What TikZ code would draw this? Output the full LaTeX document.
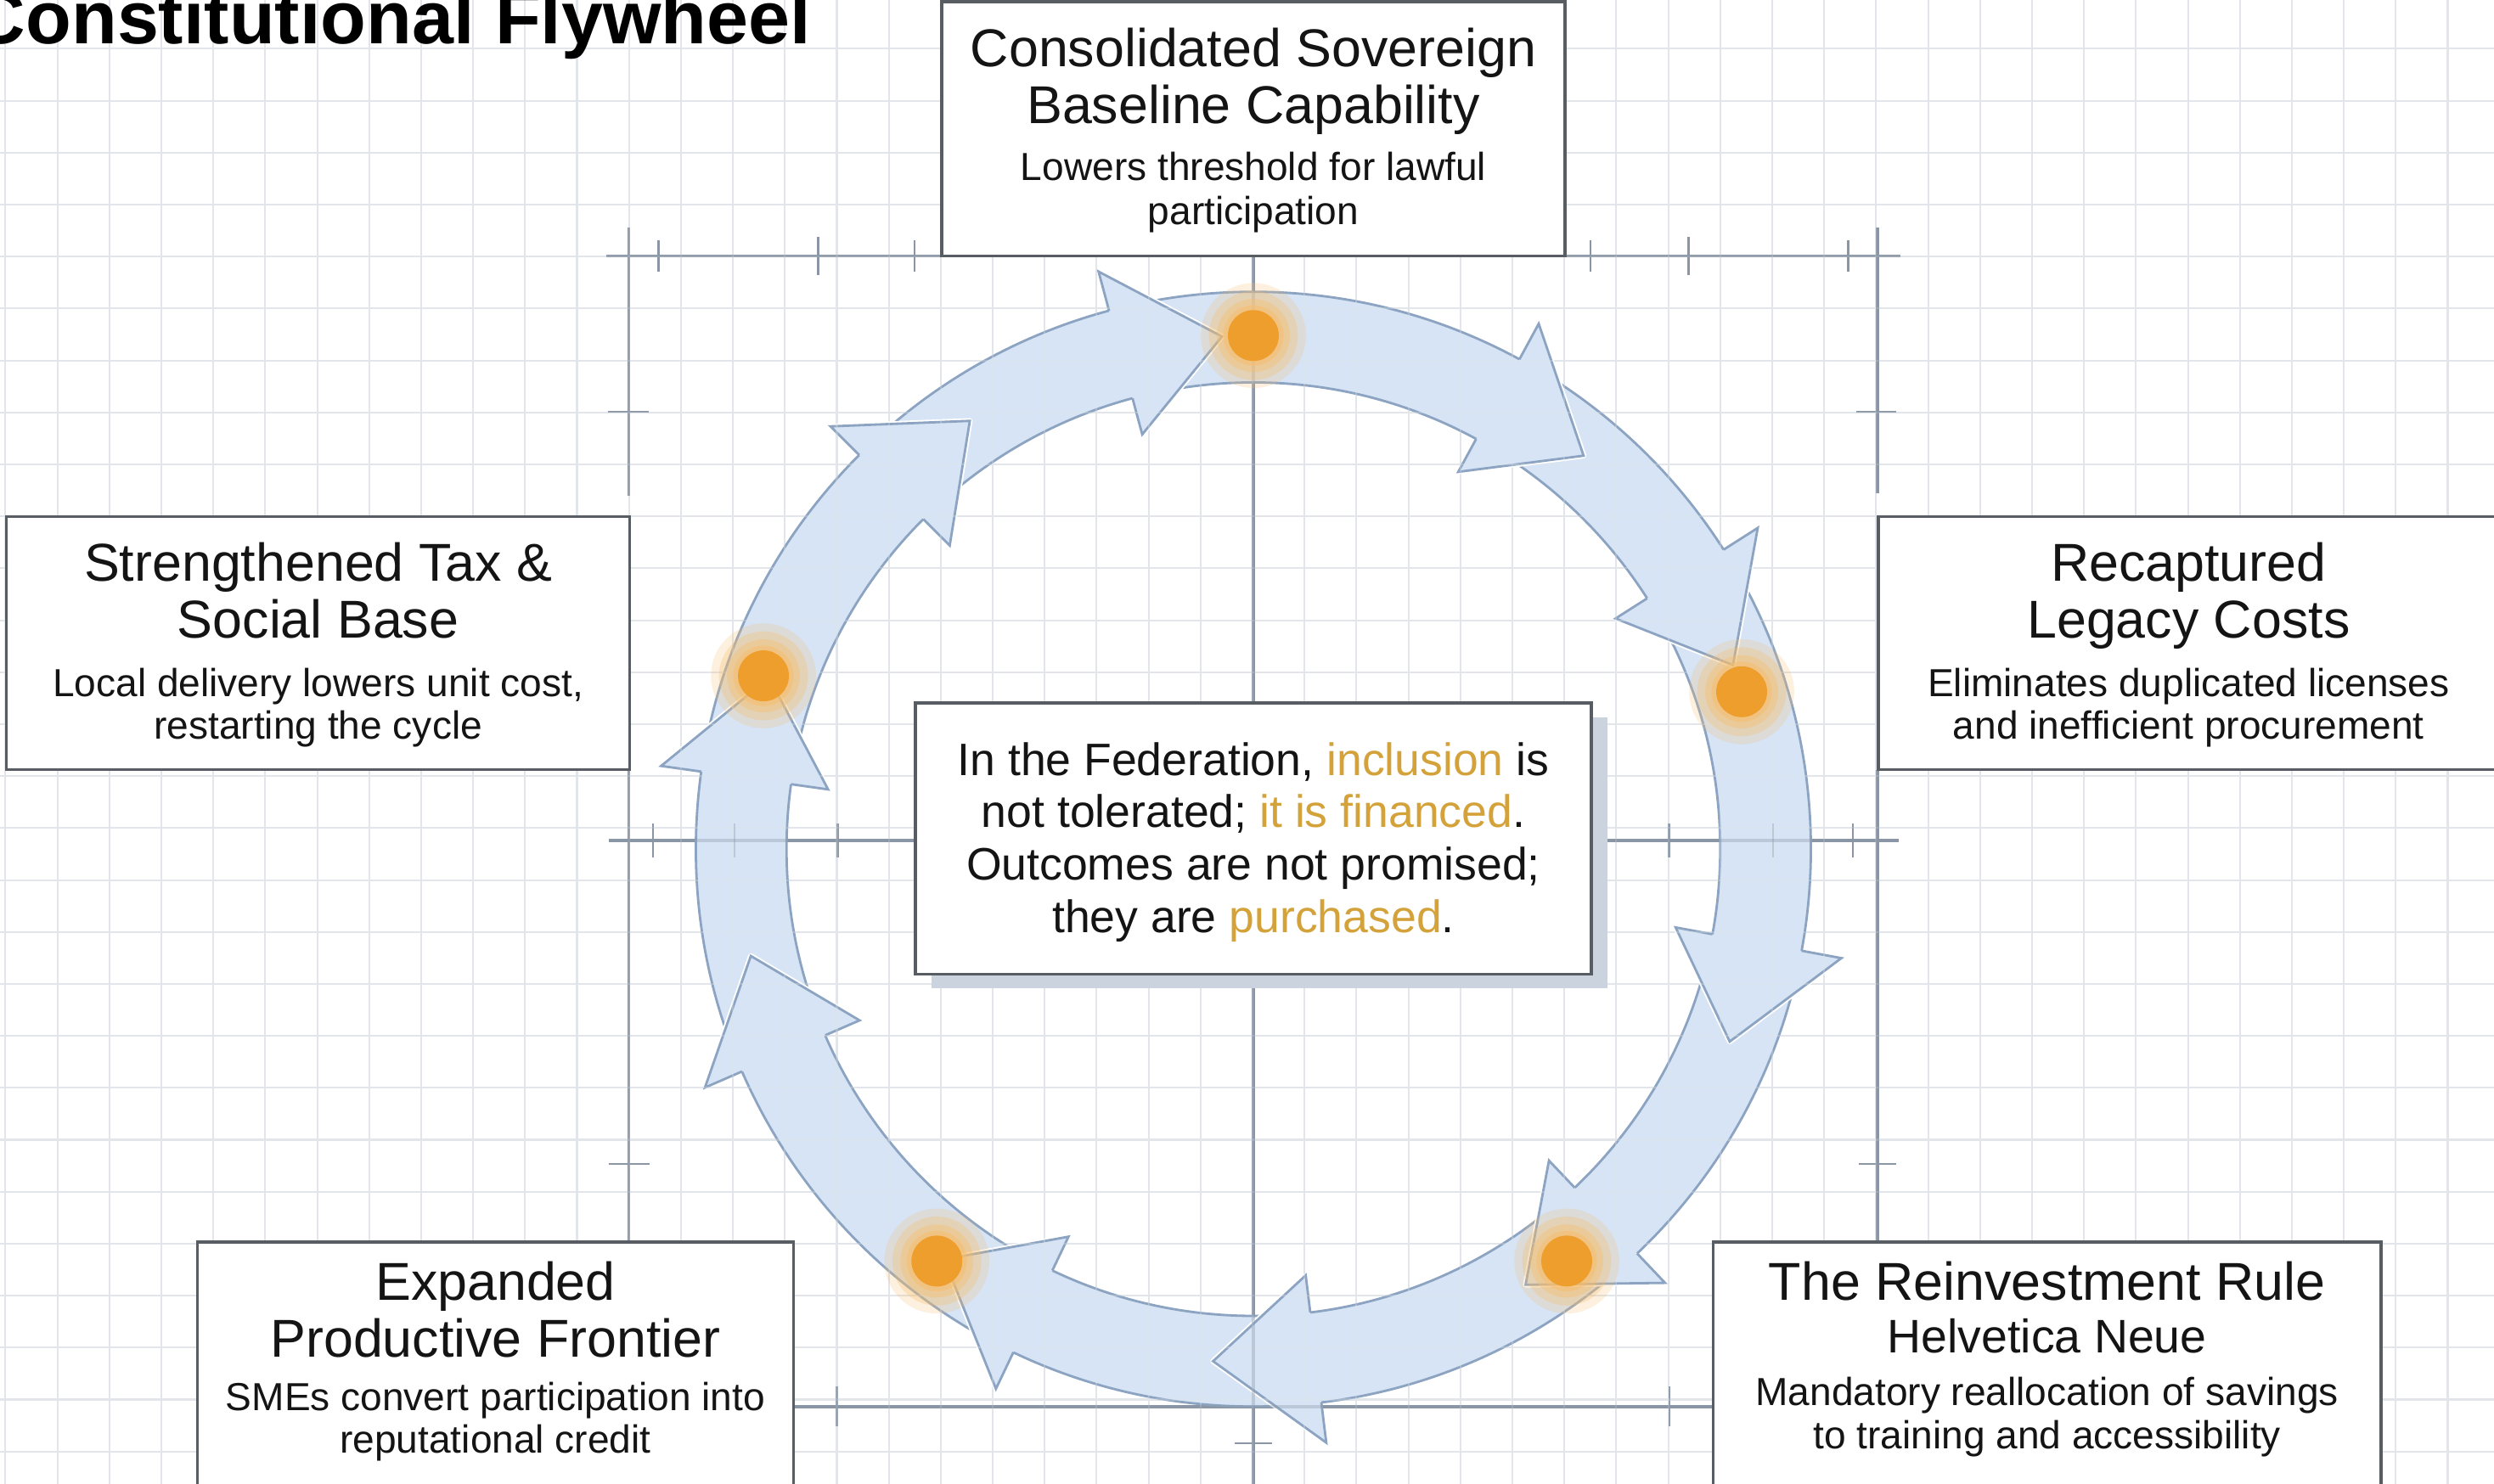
\documentclass[tikz,border=0pt]{standalone}
\usepackage{fontspec}
\setmainfont{Liberation Sans}
\usetikzlibrary{calc}
\definecolor{gridc}{RGB}{226,229,233}
\definecolor{axisc}{RGB}{138,150,166}
\definecolor{ringf}{RGB}{214,228,245}
\definecolor{ringd}{RGB}{140,164,193}
\definecolor{dotc}{RGB}{238,158,44}
\definecolor{glowc}{RGB}{247,190,110}
\definecolor{boxd}{RGB}{88,93,100}
\definecolor{hl}{RGB}{212,162,58}
\definecolor{txt}{RGB}{20,20,20}
\definecolor{shadowc}{RGB}{203,211,222}
\begin{document}
\begin{tikzpicture}[x=1pt,y=-1pt,
  gridline/.style={draw=gridc, line width=1.1pt},
  axisline/.style={draw=axisc, line width=1.7pt},
  tickline/.style={draw=axisc, line width=1.4pt},
  ringedge/.style={draw=ringd, line width=1.5pt},
  boxstyle/.style={draw=boxd, line width=1.8pt, fill=white, inner sep=0pt, outer sep=0pt},
  boxtitle/.style={anchor=base, text=txt, inner sep=0pt, font=\fontsize{33.5}{36}\selectfont},
  boxsub/.style={anchor=base, text=txt, inner sep=0pt, font=\fontsize{24.6}{28}\selectfont},
  quotetext/.style={anchor=base, text=txt, inner sep=0pt, font=\fontsize{28.6}{32}\selectfont},
  glowdot/.style={circle, fill=dotc, minimum size=32pt, inner sep=0pt},
]
\useasboundingbox (0,0) rectangle (1568,933);
\clip (0,0) rectangle (1568,933);
\fill[white] (0,0) rectangle (1568,933);

% background grid
\foreach \i in {0,...,48} \draw[gridline] ({3.4+32.67*\i},0) -- ({3.4+32.67*\i},933);
\foreach \j in {0,...,29} \draw[gridline] (0,{-2+32.67*\j}) -- (1568,{-2+32.67*\j});

% crosshair / technical lines
\newcommand{\crosshairs}{%
  \draw[axisline] (381,161) -- (592,161);
  \draw[axisline] (395.4,143) -- (395.4,312);
  \draw[tickline] (414,151) -- (414,171);
  \draw[tickline] (514.5,149) -- (514.5,173);
  \draw[tickline] (575,151) -- (575,171);
  \draw[tickline] (382,259) -- (408,259);
  \draw[axisline] (984,161) -- (1195,161);
  \draw[axisline] (1180.4,143) -- (1180.4,310);
  \draw[tickline] (1000,151) -- (1000,171);
  \draw[tickline] (1061.5,149) -- (1061.5,173);
  \draw[tickline] (1162,151) -- (1162,171);
  \draw[tickline] (1167,259) -- (1192,259);
  \draw[axisline] (382.6,528.5) -- (575.5,528.5);
  \draw[tickline] (410.6,518) -- (410.6,539);
  \draw[tickline] (461.8,518) -- (461.8,539);
  \draw[tickline] (526.8,518) -- (526.8,539);
  \draw[axisline] (1000.4,528.5) -- (1193.6,528.5);
  \draw[tickline] (1049.4,518) -- (1049.4,539);
  \draw[tickline] (1114.8,518) -- (1114.8,539);
  \draw[tickline] (1165,518) -- (1165,539);
  \draw[axisline] (395.4,484) -- (395.4,781);
  \draw[tickline] (382.6,732) -- (408.4,732);
  \draw[axisline] (1180.4,484) -- (1180.4,781);
  \draw[tickline] (1168.7,732) -- (1192,732);
  \draw[axisline] (499,884.6) -- (1077,884.6);
  \draw[tickline] (526,872) -- (526,897);
  \draw[tickline] (1049.5,872) -- (1049.5,897);
  \draw[axisline] (788,161) -- (788,933);
  \draw[tickline] (776.5,907.6) -- (799.5,907.6);
}
\crosshairs

% flywheel ring
\fill[ringf, even odd rule] (788,534) circle[radius=350.5pt] (788,534) circle[radius=293.5pt];
\draw[ringedge] (788,534) circle[radius=350.5pt];
\draw[ringedge] (788,534) circle[radius=293.5pt];

% arrow heads
\foreach \t in {160.5,123.5,93.5,50,21,-22,-58,-94.5,-127,-168} {
  \pgfmathsetmacro{\b}{\t+11.5}
  \draw[white, line width=3.5pt, line join=round]
    ({788+376*cos(\b)},{534-376*sin(\b)}) -- ({788+323*cos(\t)},{534-323*sin(\t)}) -- ({788+270*cos(\b)},{534-270*sin(\b)});
  \fill[ringf]
    ({788+376*cos(\b)},{534-376*sin(\b)}) -- ({788+323*cos(\t)},{534-323*sin(\t)}) -- ({788+270*cos(\b)},{534-270*sin(\b)}) -- cycle;
  \draw[ringedge, line join=miter]
    ({788+350.5*cos(\b)},{534-350.5*sin(\b)}) -- ({788+376*cos(\b)},{534-376*sin(\b)}) -- ({788+323*cos(\t)},{534-323*sin(\t)}) -- ({788+270*cos(\b)},{534-270*sin(\b)}) -- ({788+293.5*cos(\b)},{534-293.5*sin(\b)});
}

% faint lines showing through the ring
\begin{scope}[opacity=0.3]
\foreach \i in {0,...,48} \draw[gridline] ({3.4+32.67*\i},0) -- ({3.4+32.67*\i},933);
\foreach \j in {0,...,29} \draw[gridline] (0,{-2+32.67*\j}) -- (1568,{-2+32.67*\j});
\end{scope}
\begin{scope}[opacity=0.35]
\crosshairs
\end{scope}

% glowing dots
\foreach \n/\x/\y in {d1/788/211, d2/1095/435, d3/985/793, d4/589/793, d5/480/425} {
  \fill[glowc, opacity=0.22] (\x,\y) circle[radius=33pt];
  \fill[glowc, opacity=0.3] (\x,\y) circle[radius=28pt];
  \fill[glowc, opacity=0.4] (\x,\y) circle[radius=23pt];
  \fill[glowc, opacity=0.5] (\x,\y) circle[radius=19pt];
  \node[glowdot] (\n) at (\x,\y) {};
}

% boxes
\node[boxstyle, minimum width=392pt, minimum height=160pt] (topbox) at (788,81) {};
\node[boxstyle, minimum width=392pt, minimum height=159pt] (leftbox) at (200,404.5) {};
\node[boxstyle, minimum width=392pt, minimum height=159pt] (rightbox) at (1377,404.5) {};
\node[boxstyle, minimum width=375pt, minimum height=154pt] (blbox) at (311.5,858) {};
\node[boxstyle, minimum width=420pt, minimum height=154pt] (brbox) at (1287,858) {};
\fill[shadowc] (585.5,451) rectangle (1010.5,621.5);
\node[boxstyle, minimum width=425pt, minimum height=170.5pt] (ctrbox) at (788,527.25) {};

% top box text
\node[boxtitle] (t1) at (788,42) {Consolidated Sovereign};
\node[boxtitle] (t2) at (788,77.6) {Baseline Capability};
\node[boxsub] (t3) at (788,113.4) {Lowers threshold for lawful};
\node[boxsub] (t4) at (788,141) {participation};

% left box text
\node[boxtitle] (l1) at (200,365.7) {Strengthened Tax \&};
\node[boxtitle] (l2) at (200,401.3) {Social Base};
\node[boxsub] (l3) at (200,437.8) {Local delivery lowers unit cost,};
\node[boxsub] (l4) at (200,464.5) {restarting the cycle};

% right box text
\node[boxtitle] (r1) at (1376,365.7) {Recaptured};
\node[boxtitle] (r2) at (1376,401.3) {Legacy Costs};
\node[boxsub] (r3) at (1376,437.8) {Eliminates duplicated licenses};
\node[boxsub] (r4) at (1376,464.5) {and inefficient procurement};

% bottom-left box text
\node[boxtitle] (bl1) at (311.5,817.7) {Expanded};
\node[boxtitle] (bl2) at (311.5,853.4) {Productive Frontier};
\node[boxsub] (bl3) at (311.5,887.2) {SMEs convert participation into};
\node[boxsub] (bl4) at (311.5,913.9) {reputational credit};

% bottom-right box text
\node[boxtitle] (br1) at (1287,817.7) {The Reinvestment Rule};
\node[boxtitle, font=\fontsize{29.6}{32}\selectfont] (br2) at (1287,850.6) {Helvetica Neue};
\node[boxsub] (br3) at (1287,883.6) {Mandatory reallocation of savings};
\node[boxsub] (br4) at (1287,911.2) {to training and accessibility};

% center quote
\node[quotetext] (q1) at (788,487.5) {In the Federation, \textcolor{hl}{inclusion} is};
\node[quotetext] (q2) at (788,520.5) {not tolerated; \textcolor{hl}{it is financed}.};
\node[quotetext] (q3) at (788,553.5) {Outcomes are not promised;};
\node[quotetext] (q4) at (788,586.5) {they are \textcolor{hl}{purchased}.};

% title (cut off at the top-left edge, as in the reference)
\node[anchor=base east, inner sep=0pt, text=black, font=\bfseries\fontsize{47}{50}\selectfont] (title) at (510,27.5) {Constitutional Flywheel};
\end{tikzpicture}
\end{document}
